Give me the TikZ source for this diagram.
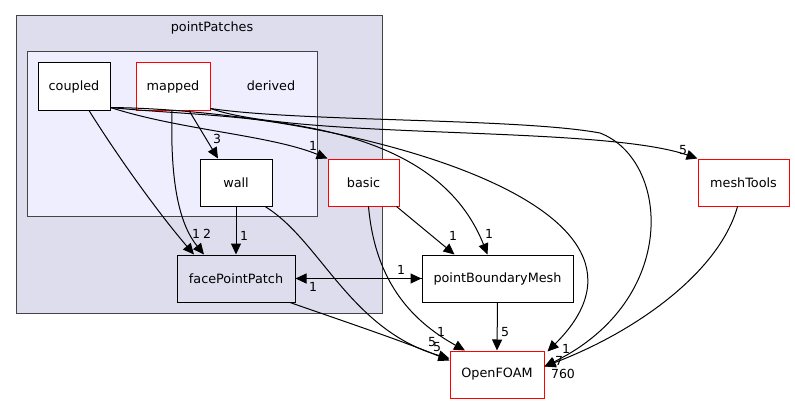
\documentclass[tikz,border=0pt]{standalone}
\usepackage{fontspec}
\setmainfont{DejaVu Sans}
\usetikzlibrary{arrows.meta}

\definecolor{outerfill}{HTML}{DDDDEE}
\definecolor{innerfill}{HTML}{EEEEFF}
\definecolor{frameline}{HTML}{444444}
\definecolor{dirred}{HTML}{FF0000}

\tikzset{
  dirbox/.style={draw=black, fill=white, line width=1pt, minimum height=47pt,
    inner sep=0pt, font=\fontsize{12.8}{15}\selectfont},
  reddir/.style={dirbox, draw=dirred},
  dep/.style={draw=black, line width=1pt, -{Triangle[length=11pt,width=10pt]}},
  cnt/.style={inner sep=0pt, font=\fontsize{12.5}{14}\selectfont},
  frame/.style={draw=frameline, line width=1pt},
}

\begin{document}
\begin{tikzpicture}[x=1pt,y=-1pt]
  \useasboundingbox (0,0) rectangle (795,404);

  % clusters
  \draw[frame, fill=outerfill] (16,16) rectangle (382,313);
  \node[cnt, font=\fontsize{12.8}{15}\selectfont] (pplabel) at (212,28) {pointPatches};
  \draw[frame, fill=innerfill] (27,52) rectangle (317,216);
  \node[cnt, font=\fontsize{12.8}{15}\selectfont] (derivedlabel) at (271,86) {derived};

  % directories
  \node[dirbox, minimum width=72pt] (coupled) at (74,86.5) {coupled};
  \node[reddir, minimum width=74pt] (mapped) at (173,86.5) {mapped};
  \node[dirbox, minimum width=72pt] (wall) at (236,182.5) {wall};
  \node[reddir, minimum width=71pt] (basic) at (363.5,182.5) {basic};
  \node[dirbox, fill=outerfill, minimum width=118pt] (fpp) at (236,278.5) {facePointPatch};
  \node[dirbox, minimum width=151pt] (pbm) at (497.5,278.5) {pointBoundaryMesh};
  \node[reddir, minimum width=94pt] (openfoam) at (497,374.5) {OpenFOAM};
  \node[reddir, minimum width=91pt] (meshtools) at (743.5,182.5) {meshTools};

  % dependencies
  \draw[dep] ([xshift=15pt]coupled.south) .. controls (120,160) and (160,215) .. ([xshift=-42pt]fpp.north);
  \node[cnt] (l1) at (196,234) {1};
  \draw[dep] ([xshift=-1pt]mapped.south) .. controls (170,185) and (180,225) .. ([xshift=-32pt]fpp.north);
  \node[cnt] (l2) at (207,234) {2};
  \draw[dep] ([xshift=16pt]mapped.south) -- ([xshift=-18pt]wall.north);
  \node[cnt] (l3) at (217,139) {3};
  \draw[dep] (wall.south) -- (fpp.north);
  \node[cnt] (l4) at (244,236) {1};

  \draw[dep] ([yshift=3pt]coupled.south east) .. controls (180,130) and (270,135) .. (basic.north west);
  \node[cnt] (l5) at (313,146) {1};
  \draw[dep] ([yshift=3pt]coupled.south east) .. controls (230,120) and (430,110) .. ([xshift=-10pt]pbm.north);
  \node[cnt] (l6) at (489,234) {1};
  \draw[dep] ([yshift=3pt]coupled.south east) .. controls (330,110) and (700,200) .. ([xshift=3pt,yshift=-1pt]openfoam.north east);
  \node[cnt] (l7) at (566,349) {1};

  \draw[dep] ([yshift=2pt]mapped.south east) .. controls (300,140) and (600,125) .. (meshtools.north west);
  \node[cnt] (l8) at (683,150) {5};
  \draw[dep] ([yshift=2pt]mapped.south east) .. controls (300,122) and (520,118) .. (600,133)
    .. controls (670,160) and (680,300) .. ([yshift=8pt]openfoam.east);
  \node[cnt] (l9) at (559,361) {7};
  \draw[dep] (meshtools.south) ++(-6pt,0) .. controls (720,270) and (640,330) .. ([yshift=8pt]openfoam.east);
  \node[cnt] (l10) at (563,374) {760};

  \draw[dep] ([xshift=29pt]wall.south) .. controls (320,240) and (350,330) .. ([yshift=16pt]openfoam.west);
  \node[cnt] (l11) at (437,347) {5};
  \draw[dep] ([xshift=54pt]fpp.south) .. controls (340,320) and (400,340) .. ([yshift=14pt]openfoam.west);
  \node[cnt] (l12) at (432,342) {5};
  \draw[dep] ([xshift=5pt]basic.south) .. controls (375,280) and (410,320) .. ([xshift=-32pt]openfoam.north);
  \node[cnt] (l13) at (441,332) {1};
  \draw[dep] ([xshift=-3pt]basic.south east) -- ([xshift=-43pt]pbm.north);
  \node[cnt] (l14) at (453,236) {1};
  \draw[dep] (pbm.south) -- (openfoam.north);
  \node[cnt] (l15) at (505,332) {5};

  \draw[dep] (fpp.east) -- (pbm.west);
  \node[cnt] (l16) at (401,270) {1};
  \draw[dep] (pbm.west) -- (fpp.east);
  \node[cnt] (l17) at (313,287) {1};
\end{tikzpicture}
\end{document}
